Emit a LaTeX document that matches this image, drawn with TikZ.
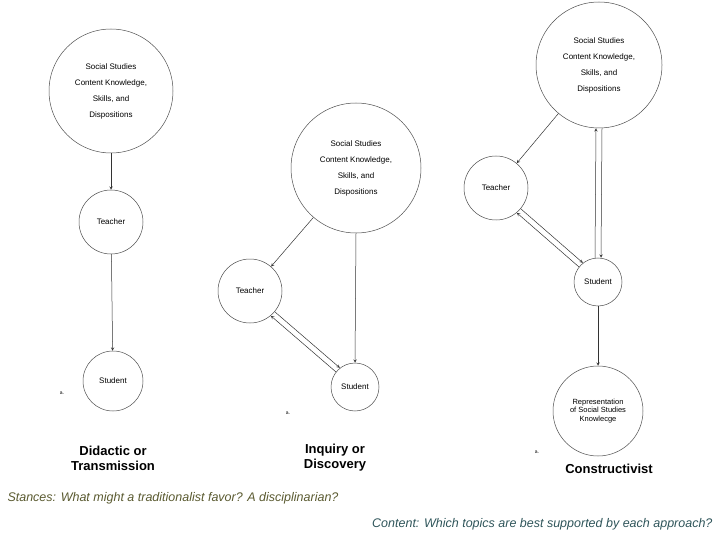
\documentclass[tikz,border=0pt]{standalone}
\usepackage{fontspec}
\setmainfont{Liberation Sans}
\begin{document}
\begin{tikzpicture}[x=1pt,y=-1pt,
  c/.style={circle,draw=black!70,line width=0.5pt,align=center,font=\fontsize{8}{16}\selectfont,inner sep=0pt},
  a/.style={-stealth,line width=0.5pt,draw=black!80},
  lab/.style={font=\fontsize{13}{15}\selectfont\bfseries,align=center},
  sm/.style={font=\fontsize{5}{6}\selectfont}]
\useasboundingbox (0,0) rectangle (720,540);
% column 1
\node[c,minimum size=124pt] (b1) at (111,91) {Social Studies\\Content Knowledge,\\Skills, and\\Dispositions};
\node[c,minimum size=64pt] (t1) at (111,222) {Teacher};
\node[c,minimum size=60pt] (s1) at (113,381) {Student};
\node[sm] (a1) at (62,393) {a.};
\draw[a] (b1) -- (t1);
\draw[a] (t1) -- (s1);
% column 2
\node[c,minimum size=130pt] (b2) at (356,168) {Social Studies\\Content Knowledge,\\Skills, and\\Dispositions};
\node[c,minimum size=64pt] (t2) at (250,291) {Teacher};
\node[c,minimum size=48pt] (s2) at (355,387) {Student};
\node[sm] (a2) at (288,413) {a.};
\draw[a] (b2) -- (t2);
\draw[a] (b2.south) -- (s2.north);
\draw[a] ([xshift=2pt,yshift=2pt]t2.-45) -- ([xshift=2pt,yshift=2pt]s2.135);
\draw[a] ([xshift=-2pt,yshift=-2pt]s2.135) -- ([xshift=-2pt,yshift=-2pt]t2.-45);
% column 3
\node[c,minimum size=126pt] (b3) at (599,65) {Social Studies\\Content Knowledge,\\Skills, and\\Dispositions};
\node[c,minimum size=64pt] (t3) at (496,188) {Teacher};
\node[c,minimum size=48pt] (s3) at (598,282) {Student};
\node[c,minimum size=90pt,font=\fontsize{7.5}{8.5}\selectfont] (r3) at (598,411) {Representation\\of Social Studies\\Knowlecge};
\node[sm] (a3) at (537,452) {a.};
\draw[a] (b3) -- (t3);
\draw[a] ([xshift=3pt]b3.south) -- ([xshift=3pt]s3.north);
\draw[a] ([xshift=-3pt]s3.north) -- ([xshift=-3pt]b3.south);
\draw[a] ([xshift=2pt,yshift=2pt]t3.-45) -- ([xshift=2pt,yshift=2pt]s3.135);
\draw[a] ([xshift=-2pt,yshift=-2pt]s3.135) -- ([xshift=-2pt,yshift=-2pt]t3.-45);
\draw[a] (s3) -- (r3);
% labels
\node[lab] (l1) at (113,458) {Didactic or\\Transmission};
\node[lab] (l2) at (335,458) {Inquiry or\\Discovery};
\node[lab] (l3) at (609,469) {Constructivist};
\node[font=\fontsize{12.5}{14}\selectfont\itshape,color={rgb,255:red,90;green,90;blue,48},anchor=west] (st) at (4,498) {Stances: What might a traditionalist favor? A disciplinarian?};
\node[font=\fontsize{12.5}{14}\selectfont\itshape,color={rgb,255:red,47;green,85;blue,90},anchor=east] (ct) at (716,524) {Content: Which topics are best supported by each approach?};
\end{tikzpicture}
\end{document}
